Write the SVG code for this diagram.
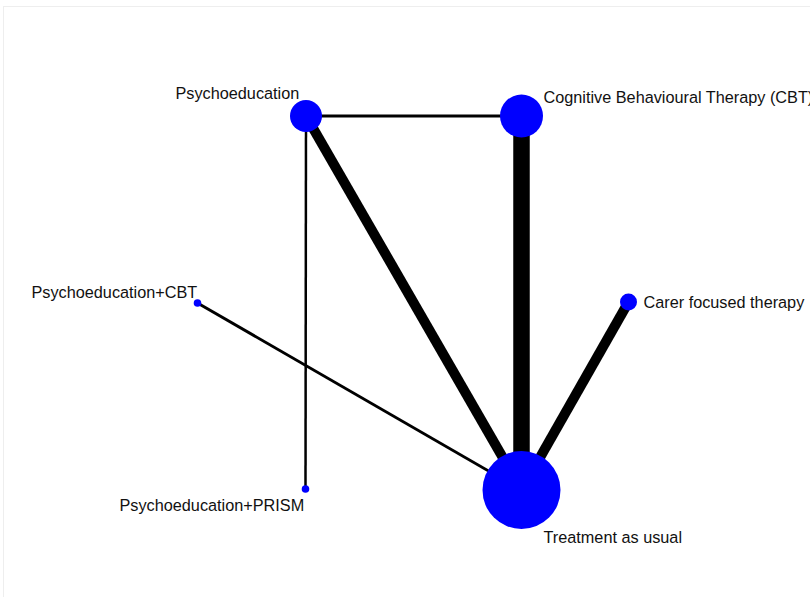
<svg xmlns="http://www.w3.org/2000/svg" width="810" height="597" viewBox="0 0 810 597">
  <style>
    .edge { stroke: #000000; stroke-linecap: butt; fill: none; }
    .node { fill: #0000ff; }
    .label { font-family: "Liberation Sans", Arial, sans-serif; font-size: 16.25px; fill: #111111; }
  </style>
  <rect x="0" y="0" width="810" height="597" fill="#ffffff"/>
  <!-- plot frame -->
  <rect x="3.5" y="6.5" width="820" height="600" fill="none" stroke="#eeeeee" stroke-width="1"/>

  <g id="connectors">
    <line class="edge" x1="306" y1="116" x2="521.5" y2="116" stroke-width="3"/>
    <line class="edge" x1="306" y1="116" x2="521.5" y2="490" stroke-width="10"/>
    <line class="edge" x1="521.5" y1="116" x2="521.5" y2="490" stroke-width="16.5"/>
    <line class="edge" x1="628.5" y1="302" x2="521.5" y2="490" stroke-width="10"/>
    <line class="edge" x1="197.5" y1="303" x2="521.5" y2="490" stroke-width="3"/>
    <line class="edge" x1="306" y1="116" x2="305.5" y2="489" stroke-width="2.5"/>
  </g>

  <g id="node-psychoeducation">
    <circle class="node" cx="306" cy="116" r="16"/>
    <text class="label" x="175.5" y="99">Psychoeducation</text>
  </g>
  <g id="node-cbt">
    <circle class="node" cx="521.5" cy="116" r="21.5"/>
    <text class="label" x="543.5" y="103">Cognitive Behavioural Therapy (CBT)</text>
  </g>
  <g id="node-carer">
    <circle class="node" cx="628.5" cy="302" r="8.5"/>
    <text class="label" x="643.5" y="308">Carer focused therapy</text>
  </g>
  <g id="node-psychoeducation-cbt">
    <circle class="node" cx="197.5" cy="303" r="3.8"/>
    <text class="label" x="31.5" y="298">Psychoeducation+CBT</text>
  </g>
  <g id="node-psychoeducation-prism">
    <circle class="node" cx="305.5" cy="489" r="3.8"/>
    <text class="label" x="119.5" y="511">Psychoeducation+PRISM</text>
  </g>
  <g id="node-tau">
    <circle class="node" cx="521.5" cy="490" r="39"/>
    <text class="label" x="543.5" y="543">Treatment as usual</text>
  </g>
</svg>
